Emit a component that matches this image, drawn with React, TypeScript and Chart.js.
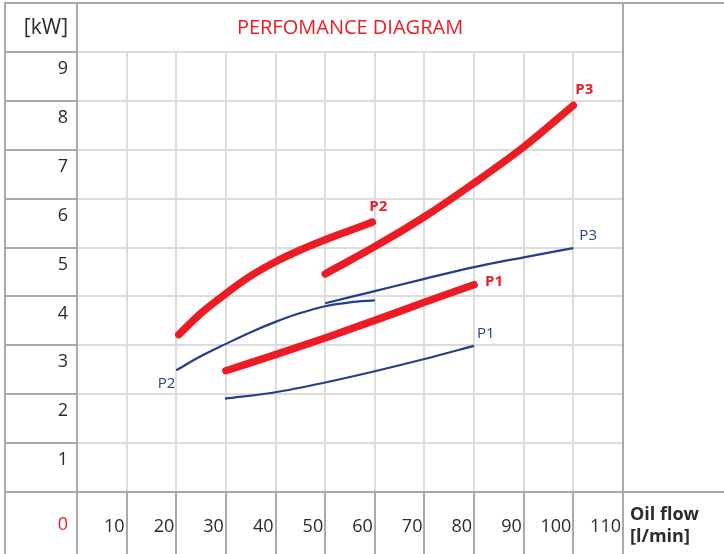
import React, { useEffect, useRef } from 'react';
import { Chart, registerables } from 'chart.js';

Chart.register(...registerables);

// ---- text ----
const TITLE = 'PERFOMANCE DIAGRAM';
const Y_UNIT = '[kW]';
const X_UNIT = ['Oil flow', '[l/min]'];
const ORIGIN_LABEL = '0';

// ---- axes ----
const X_MIN = 0;
const X_MAX = 110;
const X_STEP = 10;
const Y_MIN = 0;
const Y_MAX = 9;
const Y_STEP = 1;

// ---- series (oil flow l/min -> power kW) ----
const redP1X = [30, 40, 50, 60, 70, 80];
const redP1Y = [2.48, 2.81, 3.15, 3.51, 3.88, 4.24];
const redP2X = [20.5, 25, 30, 35, 40, 45, 50, 55, 59.5];
const redP2Y = [3.22, 3.66, 4.06, 4.42, 4.71, 4.95, 5.16, 5.35, 5.52];
const redP3X = [50, 60, 70, 80, 90, 100];
const redP3Y = [4.46, 5.02, 5.63, 6.32, 7.06, 7.91];
const blueP1X = [29.8, 40, 50, 60, 70, 80];
const blueP1Y = [1.91, 2.04, 2.24, 2.47, 2.72, 2.99];
const blueP2X = [20, 25, 30, 35, 40, 45, 50, 55, 60];
const blueP2Y = [2.49, 2.78, 3.03, 3.27, 3.48, 3.66, 3.8, 3.88, 3.92];
const blueP3X = [50, 60, 70, 80, 90, 100];
const blueP3Y = [3.86, 4.11, 4.36, 4.6, 4.8, 4.99];

const SERIES_NAMES = ['P1', 'P2', 'P3'];

// ---- styles ----
const RED = '#ed1c24';
const BLUE = '#233e8b';
const TEXT = '#2b2b2b';
const GRID = '#dcdcdc';
const FRAME = '#a9a9a9';
const FONT = "'Open Sans', sans-serif";

const pts = (xs: number[], ys: number[]) => xs.map((x, i) => ({ x, y: ys[i] }));

// label placement: which end, dx, dy, align, bold
const LABEL_STYLE: Record<string, { end: 'first' | 'last'; dx: number; dy: number; align: CanvasTextAlign; bold: boolean; color: string }> = {
  'red-P1': { end: 'last', dx: 11, dy: -3, align: 'left', bold: true, color: RED },
  'red-P2': { end: 'last', dx: -3, dy: -15, align: 'left', bold: true, color: RED },
  'red-P3': { end: 'last', dx: 2, dy: -16, align: 'left', bold: true, color: RED },
  'blue-P1': { end: 'last', dx: 3, dy: -12, align: 'left', bold: false, color: BLUE },
  'blue-P2': { end: 'first', dx: -1, dy: 13, align: 'right', bold: false, color: BLUE },
  'blue-P3': { end: 'last', dx: 6, dy: -12, align: 'left', bold: false, color: BLUE },
};

const framePlugin = {
  id: 'tableFrame',
  afterDraw(chart: any) {
    const { ctx, chartArea: ca, width, height } = chart;
    const pad = chart.options.layout.padding;
    const left = pad.left;
    const top = pad.top;
    ctx.save();
    ctx.strokeStyle = FRAME;
    ctx.lineWidth = 2;
    ctx.beginPath();
    // top border
    ctx.moveTo(left - 1, top);
    ctx.lineTo(width, top);
    // left border
    ctx.moveTo(left, top);
    ctx.lineTo(left, height);
    // column dividers
    ctx.moveTo(ca.left, top);
    ctx.lineTo(ca.left, height);
    ctx.moveTo(ca.right, top);
    ctx.lineTo(ca.right, height);
    // header bottom (left cell)
    ctx.moveTo(left, ca.top);
    ctx.lineTo(ca.left, ca.top);
    // x-axis row line
    ctx.moveTo(left, ca.bottom);
    ctx.lineTo(width, ca.bottom);
    ctx.stroke();

    // texts
    ctx.textBaseline = 'middle';
    ctx.fillStyle = TEXT;
    ctx.font = `21px ${FONT}`;
    ctx.textAlign = 'right';
    ctx.fillText(Y_UNIT, ca.left - 9, (top + ca.top) / 2 + 1);
    ctx.fillStyle = RED;
    ctx.font = `18px ${FONT}`;
    ctx.fillText(ORIGIN_LABEL, ca.left - 9, (ca.bottom + height) / 2 + 2);

    ctx.fillStyle = TEXT;
    ctx.textAlign = 'left';
    ctx.font = `bold 18px ${FONT}`;
    const midRow = (ca.bottom + height) / 2;
    ctx.fillText(X_UNIT[0], ca.right + 7, midRow - 8);
    ctx.fillText(X_UNIT[1], ca.right + 7, midRow + 14);
    ctx.restore();
  },
  afterDatasetsDraw(chart: any) {
    const { ctx } = chart;
    ctx.save();
    ctx.textBaseline = 'middle';
    chart.data.datasets.forEach((ds: any, i: number) => {
      const st = LABEL_STYLE[ds.key];
      if (!st) return;
      const meta = chart.getDatasetMeta(i);
      const el = st.end === 'first' ? meta.data[0] : meta.data[meta.data.length - 1];
      if (!el) return;
      ctx.font = `${st.bold ? 'bold ' : ''}15px ${FONT}`;
      ctx.fillStyle = st.color;
      ctx.textAlign = st.align;
      ctx.fillText(ds.label, el.x + st.dx, el.y + st.dy);
    });
    ctx.restore();
  },
};

export default function App() {
  const ref = useRef<HTMLCanvasElement | null>(null);

  useEffect(() => {
    if (!ref.current) return;
    const red = { borderColor: RED, borderWidth: 7.5, borderCapStyle: 'round', borderJoinStyle: 'round' };
    const blue = { borderColor: BLUE, borderWidth: 2.2, borderCapStyle: 'butt', borderJoinStyle: 'round' };
    const common = { pointRadius: 0, pointHoverRadius: 0, fill: false, tension: 0.4, cubicInterpolationMode: 'monotone' };
    const datasets: any[] = [
      { key: 'blue-P1', label: SERIES_NAMES[0], data: pts(blueP1X, blueP1Y), ...common, ...blue },
      { key: 'blue-P2', label: SERIES_NAMES[1], data: pts(blueP2X, blueP2Y), ...common, ...blue },
      { key: 'blue-P3', label: SERIES_NAMES[2], data: pts(blueP3X, blueP3Y), ...common, ...blue },
      { key: 'red-P1', label: SERIES_NAMES[0], data: pts(redP1X, redP1Y), ...common, ...red },
      { key: 'red-P2', label: SERIES_NAMES[1], data: pts(redP2X, redP2Y), ...common, ...red },
      { key: 'red-P3', label: SERIES_NAMES[2], data: pts(redP3X, redP3Y), ...common, ...red },
    ];

    const chart = new Chart(ref.current, {
      type: 'line',
      data: { datasets },
      options: {
        responsive: false,
        animation: false,
        devicePixelRatio: 1,
        layout: { padding: { left: 5, top: 3, right: 101, bottom: 0 } },
        plugins: {
          legend: { display: false },
          tooltip: { enabled: false },
          title: {
            display: true,
            text: TITLE,
            fullSize: false,
            color: RED,
            font: { family: FONT, size: 20, weight: 'normal', lineHeight: 1.2 },
            padding: { top: 13.2, bottom: 11.8 },
          },
        },
        scales: {
          x: {
            type: 'linear',
            min: X_MIN,
            max: X_MAX,
            afterFit: (s: any) => { s.height = 62; },
            border: { display: false },
            grid: { color: GRID, lineWidth: 2, tickLength: 62, tickColor: FRAME, drawTicks: true },
            ticks: {
              stepSize: X_STEP,
              autoSkip: false,
              maxRotation: 0,
              align: 'end',
              labelOffset: -2,
              padding: -38,
              color: TEXT,
              font: { family: FONT, size: 18 },
              callback: (v: any) => (Number(v) === 0 ? '' : String(v)),
            },
          },
          y: {
            type: 'linear',
            min: Y_MIN,
            max: Y_MAX,
            afterFit: (s: any) => { s.width = 72; },
            border: { display: false },
            grid: { color: GRID, lineWidth: 2, tickLength: 72, tickColor: FRAME, drawTicks: true },
            ticks: {
              stepSize: Y_STEP,
              padding: -63,
              labelOffset: 17,
              color: TEXT,
              font: { family: FONT, size: 18 },
              callback: (v: any) => (Number(v) === 0 ? '' : String(v)),
            },
          },
        },
      } as any,
      plugins: [framePlugin],
    });
    return () => chart.destroy();
  }, []);

  return (
    <div style={{ position: 'absolute', left: 0, top: 0, width: 724, height: 554, background: '#fff' }}>
      <canvas ref={ref} width={724} height={554} style={{ display: 'block', width: 724, height: 554 }} />
    </div>
  );
}
